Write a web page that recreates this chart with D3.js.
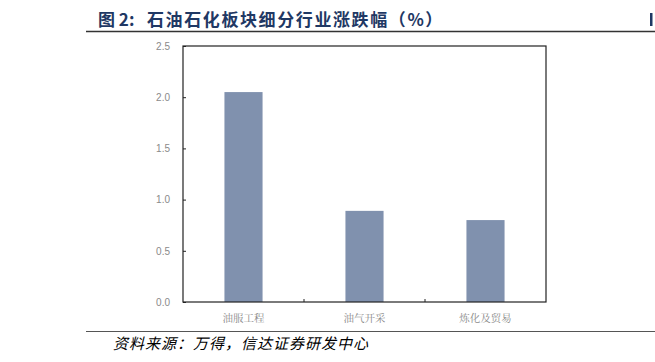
<!DOCTYPE html>
<html>
<head>
<meta charset="utf-8">
<script src="https://cdn.jsdelivr.net/npm/d3@7"></script>
<style>
  body { margin: 0; background: #fff; }
  svg { display: block; }
</style>
</head>
<body>
<div id="chart"></div>
<script>
// data
const categories = ["油服工程", "油气开采", "炼化及贸易"];
const values = [2.05, 0.89, 0.80];
const yTicks = [0, 0.5, 1.0, 1.5, 2.0, 2.5];

const W = 655, H = 362;
const margin = { top: 46, right: 109, bottom: 60, left: 183 };

const svg = d3.select("#chart").append("svg")
  .attr("width", W)
  .attr("height", H);

// title + rules
const title = svg.append("text")
  .attr("y", 26)
  .style("font", "bold 17px 'Noto Sans CJK SC'")
  .style("fill", "#1f3864");
title.append("tspan").attr("x", 98).text("图 2:");
title.append("tspan").attr("x", 147)
  .style("letter-spacing", "1.6px")
  .style("font-weight", "600")
  .text("石油石化板块细分行业涨跌幅（%）");

svg.append("line")
  .attr("x1", 86).attr("x2", W)
  .attr("y1", 31.5).attr("y2", 31.5)
  .attr("stroke", "#333").attr("stroke-width", 1.5);

svg.append("rect")
  .attr("x", 650).attr("y", 13).attr("width", 2.5).attr("height", 13)
  .attr("fill", "#1f3864");

svg.append("line")
  .attr("x1", 86).attr("x2", W)
  .attr("y1", 331.5).attr("y2", 331.5)
  .attr("stroke", "#555").attr("stroke-width", 1.2);

svg.append("text")
  .attr("x", 113)
  .attr("y", 349)
  .style("font", "italic 15px 'Noto Sans CJK SC'")
  .style("letter-spacing", "1px")
  .style("fill", "#000")
  .text("资料来源：万得，信达证券研发中心");

// plot
const x = d3.scaleBand()
  .domain(categories)
  .range([margin.left, W - margin.right]);

const y = d3.scaleLinear()
  .domain([0, 2.5])
  .range([H - margin.bottom, margin.top]);

const barW = x.bandwidth() * 0.315;

svg.append("g")
  .selectAll("rect")
  .data(values)
  .join("rect")
  .attr("x", (d, i) => x(categories[i]) + (x.bandwidth() - barW) / 2)
  .attr("y", d => y(d))
  .attr("width", barW)
  .attr("height", d => y(0) - y(d))
  .attr("fill", "#8091ae");

// frame
svg.append("rect")
  .attr("x", margin.left)
  .attr("y", margin.top)
  .attr("width", W - margin.right - margin.left)
  .attr("height", H - margin.bottom - margin.top)
  .attr("fill", "none")
  .attr("stroke", "#222")
  .attr("stroke-width", 1.2);

// y axis
const yAxis = svg.append("g")
  .attr("transform", `translate(${margin.left},0)`)
  .call(d3.axisLeft(y).tickValues(yTicks).tickFormat(d3.format(".1f")).tickSize(-3).tickPadding(13));
yAxis.select(".domain").remove();
yAxis.selectAll("line").attr("stroke", "#222");
yAxis.selectAll("text")
  .style("font", "10px 'Liberation Sans'")
  .style("fill", "#8a8a8a");

// x axis: inner boundary ticks
const bounds = categories.slice(1).map(c => x(c));
svg.append("g")
  .selectAll("line")
  .data(bounds)
  .join("line")
  .attr("x1", d => d).attr("x2", d => d)
  .attr("y1", y(0)).attr("y2", y(0) - 3)
  .attr("stroke", "#222");

svg.append("g")
  .selectAll("text")
  .data(categories)
  .join("text")
  .attr("x", d => x(d) + x.bandwidth() / 2)
  .attr("y", y(0) + 20)
  .attr("text-anchor", "middle")
  .style("font", "10.5px 'Noto Serif CJK SC', 'Noto Sans CJK SC'")
  .style("fill", "#8a8a8a")
  .text(d => d);
</script>
</body>
</html>
